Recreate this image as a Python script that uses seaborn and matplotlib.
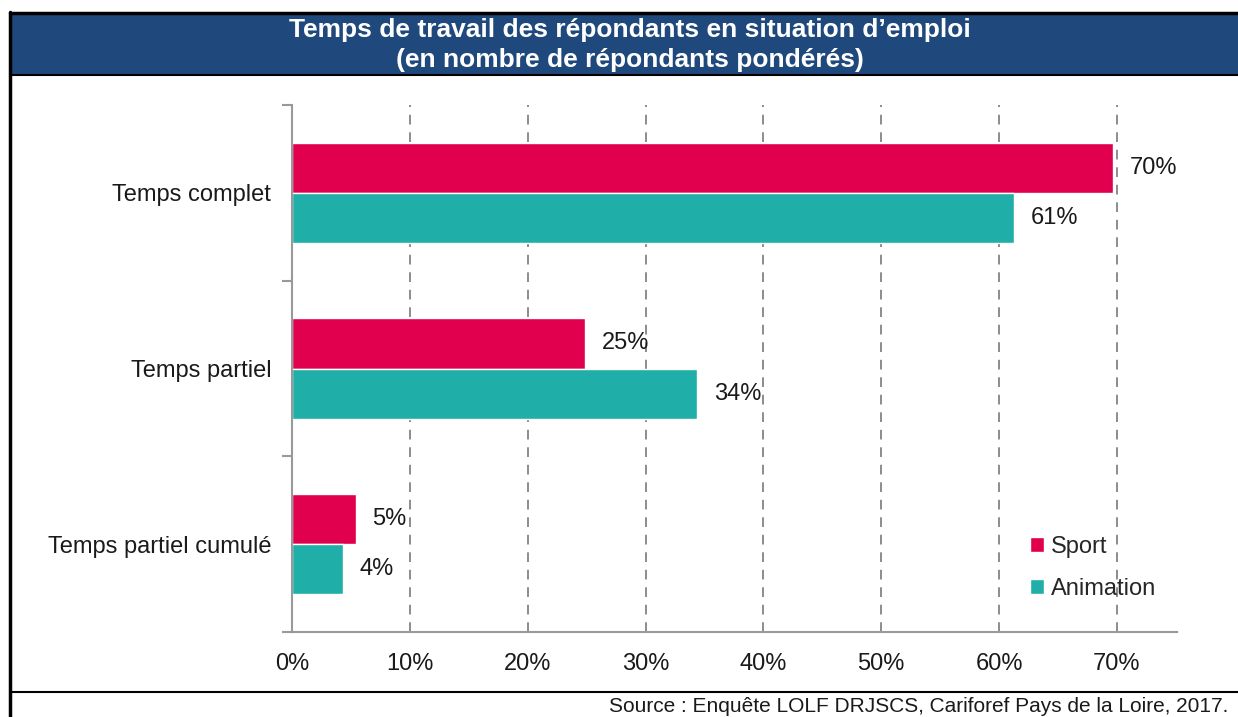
import matplotlib
matplotlib.use("Agg")
import matplotlib.pyplot as plt
import seaborn as sns
import pandas as pd
from matplotlib.lines import Line2D
from matplotlib.patches import Rectangle
from matplotlib.ticker import FixedLocator

categories = ["Temps complet", "Temps partiel", "Temps partiel cumulé"]
series_names = ["Sport", "Animation"]
sport = [69.7, 24.9, 5.4]
animation = [61.3, 34.4, 4.3]
x_ticks = [0, 10, 20, 30, 40, 50, 60, 70]
x_tick_labels = ["0%", "10%", "20%", "30%", "40%", "50%", "60%", "70%"]
title = "Temps de travail des répondants en situation d’emploi\n(en nombre de répondants pondérés)"
source = "Source : Enquête LOLF DRJSCS, Cariforef Pays de la Loire, 2017."

colors = {"Sport": "#E0004D", "Animation": "#20AFA8"}

df = pd.DataFrame({
    "categorie": categories * 2,
    "serie": [series_names[0]] * 3 + [series_names[1]] * 3,
    "valeur": sport + animation,
})

sns.set_theme(style="white")
plt.rcParams["font.family"] = ["Liberation Sans", "DejaVu Sans"]

FS = 17
W, H = 1238, 717
fig = plt.figure(figsize=(W / 100, H / 100), dpi=100)
fig.patch.set_facecolor("white")

ax = fig.add_axes([292 / W, 1 - 632 / H, (1177 - 292) / W, (632 - 105) / H])
sns.barplot(data=df, y="categorie", x="valeur", hue="serie", order=categories,
            hue_order=series_names, palette=colors, orient="h", width=0.57,
            ax=ax, saturation=1, legend=True)

ax.set_xlim(0, 75.1)
ax.set_ylim(2.5, -0.5)
ax.set_xlabel("")
ax.set_ylabel("")

# grid
for t in x_ticks[1:]:
    ax.axvline(t, color="#8C8C8C", linestyle=(0, (5, 4)), linewidth=1.4, zorder=0)

ax.set_xticks(x_ticks)
ax.set_xticklabels(x_tick_labels, fontsize=FS, color="#1A1A1A")
ax.tick_params(axis="x", which="major", direction="out", length=7, width=1.5,
               color="#999999", pad=8)
ax.set_yticks(range(len(categories)))
ax.set_yticklabels(categories, fontsize=FS, color="#1A1A1A")
ax.tick_params(axis="y", which="major", length=0, pad=15)
ax.yaxis.set_minor_locator(FixedLocator([-0.5, 0.5, 1.5, 2.5]))
ax.tick_params(axis="y", which="minor", direction="out", length=7, width=1.5,
               color="#999999", left=True)

for s in ["top", "right"]:
    ax.spines[s].set_visible(False)
for s in ["left", "bottom"]:
    ax.spines[s].set_color("#999999")
    ax.spines[s].set_linewidth(1.5)

for cont in ax.containers:
    ax.bar_label(cont, labels=[f"{v:.0f}%" for v in cont.datavalues],
                 padding=12, fontsize=FS, color="#1A1A1A")

leg = ax.legend(loc="upper left", bbox_to_anchor=(0.81, 0.222), frameon=False,
                fontsize=FS, handlelength=0.6, handleheight=0.6,
                handletextpad=0.3, labelspacing=0.82)

# header band
fig.add_artist(Rectangle((10 / W, 1 - 75 / H), 1 - 10 / W, 63 / H,
                         transform=fig.transFigure, facecolor="#1F487C",
                         edgecolor="none", zorder=1))
fig.add_artist(Line2D([10 / W, 1], [1 - 12.5 / H] * 2, color="black", linewidth=2.5,
                      transform=fig.transFigure))
fig.add_artist(Line2D([10 / W, 1], [1 - 75 / H] * 2, color="black", linewidth=1.5,
                      transform=fig.transFigure))
fig.add_artist(Line2D([10 / W, 10 / W], [0, 1 - 12 / H], color="black", linewidth=2.5,
                      transform=fig.transFigure))
fig.add_artist(Line2D([10 / W, 1], [1 - 692 / H] * 2, color="black", linewidth=1.5,
                      transform=fig.transFigure))
fig.text(0.5 + 11 / W, 1 - 45 / H, title, ha="center", va="center", color="white",
         fontsize=19, fontweight="bold", linespacing=1.3)
fig.text(1228 / W, 1 - 707 / H, source, ha="right", va="center", color="#1A1A1A",
         fontsize=15)

fig.savefig("out.png", dpi=100)
